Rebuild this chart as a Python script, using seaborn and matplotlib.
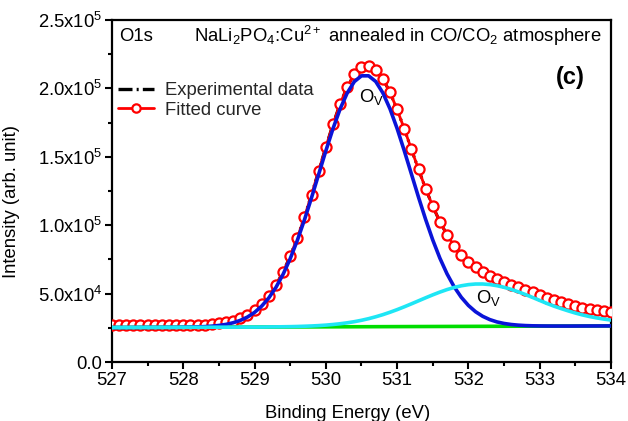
import matplotlib
matplotlib.use("Agg")
import matplotlib.pyplot as plt
import seaborn as sns
from matplotlib.ticker import MultipleLocator
from matplotlib.lines import Line2D

# ---------------- data ----------------
energy = [527.0, 527.1, 527.2, 527.3, 527.4, 527.5, 527.6, 527.7, 527.8, 527.9,
          528.0, 528.1, 528.2, 528.3, 528.4, 528.5, 528.6, 528.7, 528.8, 528.9,
          529.0, 529.1, 529.2, 529.3, 529.4, 529.5, 529.6, 529.7, 529.8, 529.9,
          530.0, 530.1, 530.2, 530.3, 530.4, 530.5, 530.6, 530.7, 530.8, 530.9,
          531.0, 531.1, 531.2, 531.3, 531.4, 531.5, 531.6, 531.7, 531.8, 531.9,
          532.0, 532.1, 532.2, 532.3, 532.4, 532.5, 532.6, 532.7, 532.8, 532.9,
          533.0, 533.1, 533.2, 533.3, 533.4, 533.5, 533.6, 533.7, 533.8, 533.9,
          534.0]

fitted = [26700, 26720, 26730, 26750, 26770, 26790, 26800, 26820, 26840, 26850,
          26950, 27040, 27170, 27380, 27715, 28224, 29013, 30196, 31918, 34358,
          37758, 42350, 48435, 56162, 65735, 77260, 90720, 105910, 122410, 139720,
          157070, 173720, 188670, 201060, 210200, 215400, 216590, 213770, 207020, 197080,
          184590, 170450, 155610, 140790, 126710, 113840, 102520, 92910, 84950, 78510,
          73360, 69228, 65868, 63028, 60506, 58153, 56374, 54585, 52780, 50967,
          49171, 47114, 45290, 43690, 42180, 40800, 39620, 38640, 37850, 37170,
          36690]

experimental = [26650, 26700, 26760, 26720, 26790, 26770, 26820, 26800, 26860, 26870,
                26930, 27060, 27150, 27400, 27700, 28250, 29000, 30220, 31900, 34400,
                37700, 42400, 48400, 56200, 65700, 77300, 90700, 105900, 122500, 139700,
                157000, 173800, 188600, 201100, 210100, 215500, 216500, 213900, 207000, 197200,
                184500, 170500, 155500, 140900, 126600, 113900, 102500, 93000, 84900, 78600,
                73300, 69300, 65800, 63100, 60500, 58200, 56300, 54600, 52800, 50900,
                49200, 47100, 45300, 43700, 42200, 40800, 39600, 38700, 37800, 37200,
                36700]

peak_ov1 = [25200, 25220, 25230, 25250, 25270, 25290, 25300, 25320, 25340, 25350,
            25450, 25540, 25670, 25880, 26215, 26724, 27513, 28696, 30418, 32858,
            36258, 40850, 46860, 54550, 64070, 75520, 88880, 103920, 120230, 137290,
            154310, 170530, 184940, 196660, 204980, 209190, 209210, 205030, 196740, 185060,
            170680, 154490, 137510, 120490, 104210, 89200, 75880, 64460, 54970, 47320,
            41340, 36778, 33418, 31008, 29316, 28173, 27424, 26945, 26640, 26467,
            26371, 26314, 26290, 26290, 26280, 26300, 26320, 26340, 26350, 26370,
            26390]

peak_ov2 = [25200, 25220, 25230, 25250, 25270, 25290, 25300, 25320, 25340, 25350,
            25370, 25390, 25400, 25420, 25440, 25450, 25470, 25490, 25510, 25520,
            25540, 25560, 25645, 25702, 25775, 25860, 25980, 26150, 26350, 26620,
            26970, 27420, 27970, 28660, 29500, 30500, 31690, 33070, 34620, 36380,
            38290, 40350, 42510, 44730, 46950, 49100, 51120, 52950, 54490, 55720,
            56570, 57010, 57030, 56620, 55800, 54610, 53100, 51310, 49320, 47200,
            45020, 42830, 40850, 39070, 37380, 35800, 34420, 33240, 32250, 31370,
            30690]

background_e = [527.0, 534.0]
background = [25200, 26390]

x_ticks = [527, 528, 529, 530, 531, 532, 533, 534]
y_ticks = [0, 50000, 100000, 150000, 200000, 250000]
y_tick_labels = ["0.0", "5.0x10$^{4}$", "1.0x10$^{5}$", "1.5x10$^{5}$",
                 "2.0x10$^{5}$", "2.5x10$^{5}$"]

# ---------------- style ----------------
sns.set_theme(style="ticks")
plt.rcParams["font.family"] = ["Liberation Sans", "DejaVu Sans"]
plt.rcParams["mathtext.fontset"] = "custom"
plt.rcParams["mathtext.rm"] = "Liberation Sans"
plt.rcParams["mathtext.it"] = "Liberation Sans"
plt.rcParams["mathtext.bf"] = "Liberation Sans:bold"
plt.rcParams["mathtext.default"] = "regular"

FS = 13.3
DASHDOT = (0, (4.2, 1.25, 0.6, 1.25))

fig = plt.figure(figsize=(6.28, 4.21), dpi=100)
ax = fig.add_axes([0.1783, 0.1401, 0.7946, 0.8124])

sns.lineplot(x=energy, y=experimental, ax=ax, color="black", lw=2.2,
             linestyle=DASHDOT, zorder=2, estimator=None, sort=False)
sns.lineplot(x=energy, y=fitted, ax=ax, color="#ff0000", lw=2.0, marker="o",
             markersize=7.3, markerfacecolor="white", markeredgecolor="#ff0000",
             markeredgewidth=1.6, zorder=3, estimator=None, sort=False)
sns.lineplot(x=background_e, y=background, ax=ax, color="#00dd00", lw=2.6,
             zorder=4, estimator=None, sort=False)
sns.lineplot(x=energy, y=peak_ov1, ax=ax, color="#0a14d8", lw=2.6, zorder=5,
             estimator=None, sort=False)
sns.lineplot(x=energy, y=peak_ov2, ax=ax, color="#1ee6f5", lw=2.6, zorder=6,
             estimator=None, sort=False)

ax.set_xlim(527, 534)
ax.set_ylim(0, 250000)
ax.set_xticks(x_ticks)
ax.set_xticklabels([str(t) for t in x_ticks], fontsize=FS)
ax.set_yticks(y_ticks)
ax.set_yticklabels(y_tick_labels, fontsize=FS)
ax.xaxis.set_minor_locator(MultipleLocator(0.5))
ax.yaxis.set_minor_locator(MultipleLocator(25000))
ax.tick_params(which="major", direction="out", length=5, width=1.5,
               color="black", labelcolor="black", pad=2)
ax.tick_params(which="minor", direction="out", length=3, width=1.5,
               color="black")
ax.tick_params(top=False, right=False, which="both")
for s in ax.spines.values():
    s.set_visible(True)
    s.set_linewidth(1.6)
    s.set_color("black")

ax.set_xlabel("Binding Energy (eV)", fontsize=FS, color="black")
ax.set_ylabel("Intensity (arb. unit)", fontsize=FS, color="black")
ax.xaxis.set_label_coords(0.472, -0.125)
ax.yaxis.set_label_coords(-0.184, 0.47)

ax.text(527.1, 238300, "O1s", fontsize=FS, va="center", ha="left", color="black")
ax.text(528.15, 238300,
        "NaLi$_2$PO$_4$:Cu$^{2+}$ annealed in CO/CO$_2$ atmosphere",
        fontsize=FS, va="center", ha="left", color="black")
ax.text(533.43, 208200, "(c)", fontsize=17, fontweight="bold",
        va="center", ha="center", color="black")
ax.text(530.47, 194000, "O$_V$", fontsize=FS, va="center", ha="left", color="black")
ax.text(532.11, 46900, "O$_V$", fontsize=FS, va="center", ha="left", color="black")

handles = [
    Line2D([], [], color="black", lw=2.4, linestyle=(0, (4.2, 1.25, 0.6, 1.25))),
    Line2D([], [], color="#ff0000", lw=2.0, marker="o", markersize=6,
           markerfacecolor="white", markeredgecolor="#ff0000", markeredgewidth=1.6),
]
ax.legend(handles, ["Experimental data", "Fitted curve"], loc="upper left",
          bbox_to_anchor=(0.0, 0.835), frameon=False, fontsize=FS,
          handlelength=2.0, handletextpad=0.55, labelspacing=0.15,
          borderaxespad=0.0, borderpad=0.3, markerfirst=True, numpoints=1)

fig.savefig("out.png", dpi=100)
